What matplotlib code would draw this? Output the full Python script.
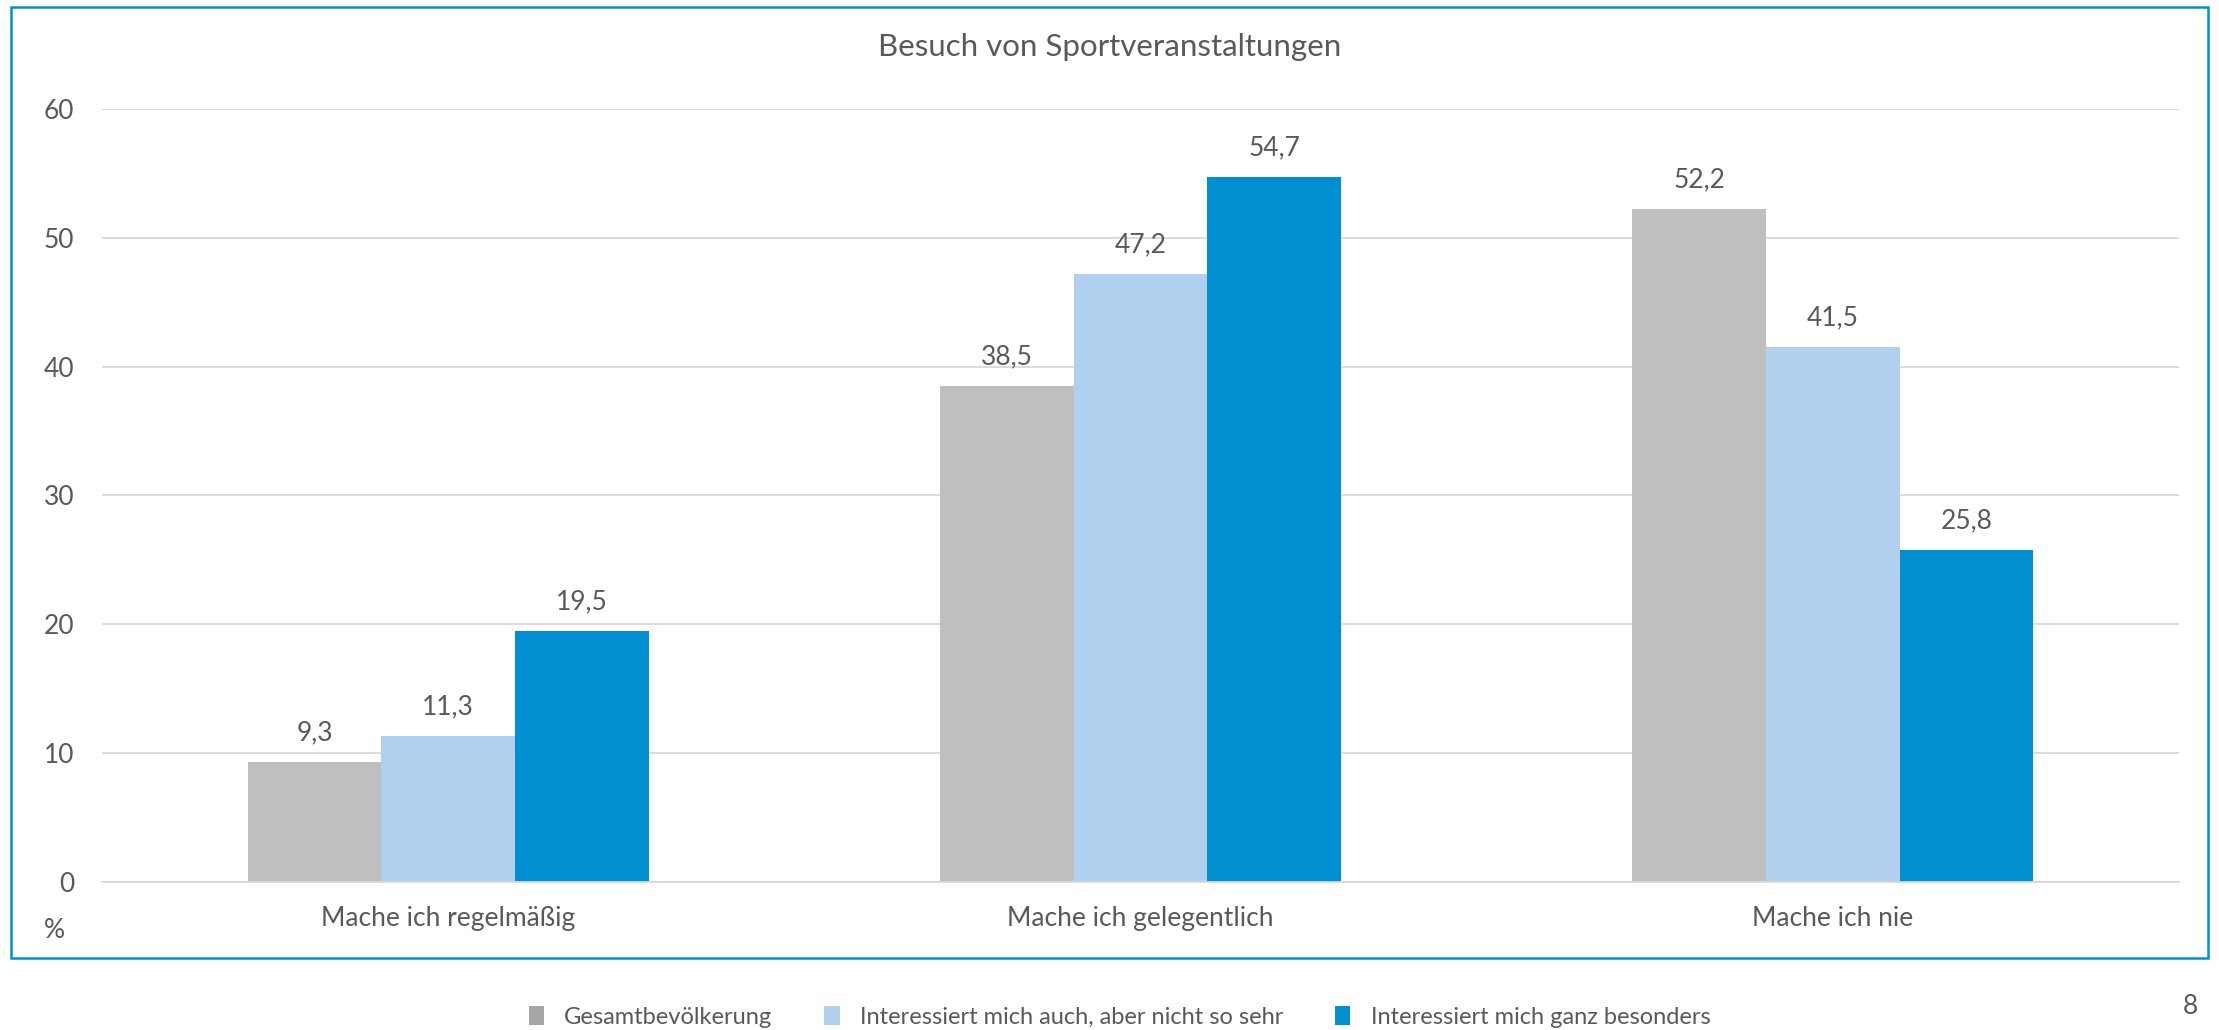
import matplotlib.pyplot as plt
from matplotlib.patches import Rectangle, Patch
import numpy as np

plt.rcParams['font.family'] = ['Lato', 'DejaVu Sans']

categories = ["Mache ich regelmäßig", "Mache ich gelegentlich", "Mache ich nie"]
series_names = [
    "Gesamtbevölkerung",
    "Interessiert mich auch, aber nicht so sehr",
    "Interessiert mich ganz besonders",
]
gesamt = [9.3, 38.5, 52.2]
auch = [11.3, 47.2, 41.5]
besonders = [19.5, 54.7, 25.8]
yticks = [0, 10, 20, 30, 40, 50, 60]

bar_colors = ["#BFBFBF", "#B1D0EE", "#008FD0"]
legend_colors = ["#A6A6A6", "#B1D0EE", "#008FD0"]
text_color = "#595959"

fig = plt.figure(figsize=(22.19, 10.30), dpi=100)
ax = fig.add_axes([0.046, 0.1437, 0.936, 0.7505])

x = np.arange(len(categories))
width = 0.193
for i, (vals, col) in enumerate(zip([gesamt, auch, besonders], bar_colors)):
    pos = x + (i - 1) * width
    ax.bar(pos, vals, width=width, color=col, zorder=2)
    for p, v in zip(pos, vals):
        ax.text(p, v + 1.3, f"{v:.1f}".replace(".", ","), ha="center", va="bottom",
                fontsize=19, color=text_color)

ax.set_xlim(-0.5, 2.5)
ax.set_ylim(0, 60)
ax.set_yticks(yticks)
ax.set_xticks(x)
ax.set_xticklabels(categories)
ax.tick_params(axis="both", length=0, labelsize=19, labelcolor=text_color)
ax.tick_params(axis="y", pad=20)
ax.tick_params(axis="x", pad=17)
ax.grid(axis="y", color="#D9D9D9", linewidth=1.3, zorder=0)
for s in ["top", "right", "left"]:
    ax.spines[s].set_visible(False)
ax.spines["bottom"].set_color("#D9D9D9")
ax.spines["bottom"].set_linewidth(1.3)

fig.text(0.5, 1 - 47 / 1030, "Besuch von Sportveranstaltungen", ha="center", va="center",
         fontsize=22.5, color=text_color)
fig.text(54 / 2219, 1 - 930 / 1030, "%", ha="center", va="center", fontsize=19, color=text_color)
fig.text(2190 / 2219, 1 - 1006 / 1030, "8", ha="center", va="center", fontsize=19, color=text_color)

fig.patches.append(Rectangle((11 / 2219, 1 - 958 / 1030), 2197 / 2219, 951 / 1030,
                             transform=fig.transFigure, fill=False,
                             edgecolor="#0090D4", linewidth=1.8))

handles = [Patch(facecolor=c, edgecolor="none") for c in legend_colors]
fig.legend(handles, series_names, loc="center",
           bbox_to_anchor=(0.5 + 10 / 2219, 1 - 1017 / 1030),
           ncol=3, frameon=False, fontsize=17, labelcolor=text_color,
           handlelength=0.65, handleheight=0.85, handletextpad=0.85, columnspacing=2.2)

fig.savefig("out.png", dpi=100, facecolor="white")
